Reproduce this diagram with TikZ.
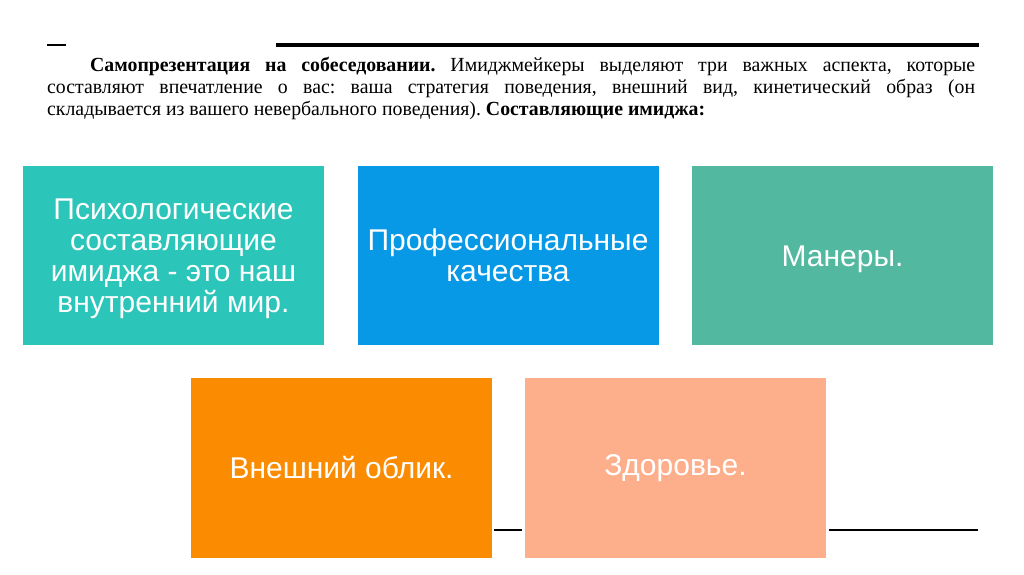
\documentclass[tikz,border=0pt]{standalone}
\usepackage{fontspec}
\setmainfont{Liberation Serif}[FakeStretch=0.99]
\newfontfamily\boxfont{Liberation Sans}
\frenchspacing
\definecolor{cTeal}{HTML}{2CC5B9}
\definecolor{cBlue}{HTML}{0798E6}
\definecolor{cGreen}{HTML}{52B9A0}
\definecolor{cOrange}{HTML}{FB8B00}
\definecolor{cPeach}{HTML}{FDAF8B}
\tikzset{
  tile/.style={rectangle, inner sep=0pt, minimum width=301pt, minimum height=179pt,
    text=white, align=center, font=\boxfont\fontsize{30}{31}\selectfont},
  rule/.style={line width=#1, black},
}
\begin{document}
\begin{tikzpicture}[x=1pt,y=-1pt]
\useasboundingbox (0,0) rectangle (1024,574);
% top rules
\coordinate (r1a) at (47,45);
\coordinate (r1b) at (66,45);
\coordinate (r2a) at (276,45);
\coordinate (r2b) at (979,45);
\draw[rule=2pt] (r1a) -- (r1b);
\draw[rule=4pt] (r2a) -- (r2b);
% paragraph
\node[anchor=north west, inner sep=0pt, text width=928pt, align=justify,
      font=\fontsize{20}{22}\selectfont] (para) at (47,56.5)
 {\frenchspacing\hspace*{43pt}\textbf{Самопрезентация на собеседовании.} Имиджмейкеры выделяют три важных аспекта, которые\linebreak составляют впечатление о вас: ваша стратегия поведения, внешний вид, кинетический образ (он\linebreak складывается из вашего невербального поведения). \textbf{Составляющие имиджа:}};
% tiles
\node[tile, fill=cTeal] (t1) at (173.5,255.5) {\rule{0pt}{28pt}Психологические\\составляющие\\имиджа - это наш\\внутренний мир.};
\node[tile, fill=cBlue] (t2) at (508,255.5) {Профессиональные\\качества};
\node[tile, fill=cGreen] (t3) at (842.5,255.5) {\rule{0pt}{28pt}Манеры.};
\node[tile, fill=cOrange, minimum height=180pt] (t4) at (341.5,468) {Внешний облик.};
\node[tile, fill=cPeach, minimum height=180pt] (t5) at (675.5,468) {Здоровье.};
% bottom rules
\coordinate (b1a) at (494,530);
\coordinate (b1b) at (522,530);
\coordinate (b2a) at (829,530);
\coordinate (b2b) at (978,530);
\draw[rule=2.5pt] (b1a) -- (b1b);
\draw[rule=2.5pt] (b2a) -- (b2b);
\end{tikzpicture}
\end{document}
